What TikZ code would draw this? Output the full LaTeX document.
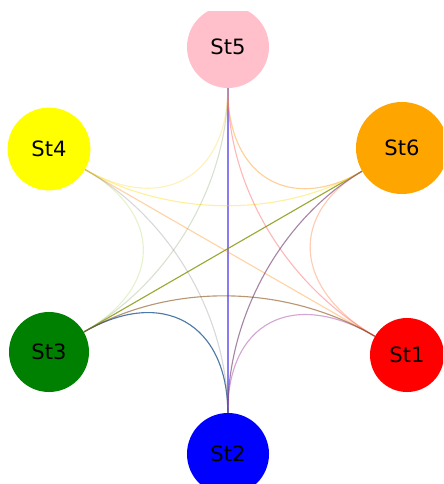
\documentclass[tikz,border=0pt]{standalone}
\usepackage{fontspec}
\setmainfont{DejaVu Sans}
\usepackage{xcolor}
\usepackage{tikz}
\usetikzlibrary{calc}
\definecolor{cOne}{RGB}{255,0,0}
\definecolor{cTwo}{RGB}{0,0,255}
\definecolor{cThree}{RGB}{0,128,0}
\definecolor{cFour}{RGB}{255,255,0}
\definecolor{cFive}{RGB}{255,192,203}
\definecolor{cSix}{RGB}{255,165,0}
\tikzset{
    station/.style = {circle, inner sep=0pt, text=black, font=\fontsize{15}{17}\selectfont},
    link/.style = {line width=0.8pt}
}

\begin{document}
\begin{tikzpicture}[x=0.025cm, y=-0.025cm]
    \useasboundingbox (0,0) rectangle (443,484);
    \clip (0,12) rectangle (443,484);
    \coordinate (ctr) at (227,250);
    % stations
    \node [station, fill=cFive,  minimum size=2.05cm]  (st5) at (228,47)  {St5};
    \node [station, fill=cFour,  minimum size=2.07cm]  (st4) at (49,149)  {St4};
    \node [station, fill=cSix,   minimum size=2.3cm]   (st6) at (402,148) {St6};
    \node [station, fill=cThree, minimum size=2.0cm]   (st3) at (49,352)  {St3};
    \node [station, fill=cOne,   minimum size=1.85cm]  (st1) at (407,355) {St1};
    \node [station, fill=cTwo,   minimum size=2.05cm]  (st2) at (228,454) {St2};
    % straight links
    \draw [link, draw=cFive!35!cTwo, opacity=.7] (st5) -- (st2);
    \draw [link, draw=cSix!50!cThree, opacity=.8] (st6) -- (st3);
    \draw [link, draw=cFour!50!cOne, opacity=.35] (st4) -- (st1);
    % neighbours
    \draw [link, draw=cFive!50!cFour, opacity=.45] (st5) .. controls ($(st5)!0.64!(ctr)$) and ($(st4)!0.64!(ctr)$) .. (st4);
    \draw [link, draw=cFive!40!cSix, opacity=.6] (st5) .. controls ($(st5)!0.64!(ctr)$) and ($(st6)!0.64!(ctr)$) .. (st6);
    \draw [link, draw=cSix!50!cOne, opacity=.3] (st6) .. controls ($(st6)!0.64!(ctr)$) and ($(st1)!0.64!(ctr)$) .. (st1);
    \draw [link, draw=cOne!50!cTwo, opacity=.35] (st1) .. controls ($(st1)!0.64!(ctr)$) and ($(st2)!0.64!(ctr)$) .. (st2);
    \draw [link, draw=cTwo!50!cThree, opacity=.7] (st2) .. controls ($(st2)!0.64!(ctr)$) and ($(st3)!0.64!(ctr)$) .. (st3);
    \draw [link, draw=cThree!50!cFour, opacity=.2] (st3) .. controls ($(st3)!0.64!(ctr)$) and ($(st4)!0.64!(ctr)$) .. (st4);
    % second neighbours
    \draw [link, draw=cFour!60!cSix, opacity=.4] (st4) .. controls ($(st4)!0.68!(ctr)$) and ($(st6)!0.68!(ctr)$) .. (st6);
    \draw [link, draw=cFive!40!cOne, opacity=.4] (st5) .. controls ($(st5)!0.68!(ctr)$) and ($(st1)!0.68!(ctr)$) .. (st1);
    \draw [link, draw=cSix!50!cTwo, opacity=.7] (st6) .. controls ($(st6)!0.68!(ctr)$) and ($(st2)!0.68!(ctr)$) .. (st2);
    \draw [link, draw=cOne!50!cThree, opacity=.55] (st1) .. controls ($(st1)!0.68!(ctr)$) and ($(st3)!0.68!(ctr)$) .. (st3);
    \draw [link, draw=cTwo!50!cFour, opacity=.3] (st2) .. controls ($(st2)!0.68!(ctr)$) and ($(st4)!0.68!(ctr)$) .. (st4);
    \draw [link, draw=cThree!50!cFive, opacity=.3] (st3) .. controls ($(st3)!0.68!(ctr)$) and ($(st5)!0.68!(ctr)$) .. (st5);
\end{tikzpicture}
\end{document}
